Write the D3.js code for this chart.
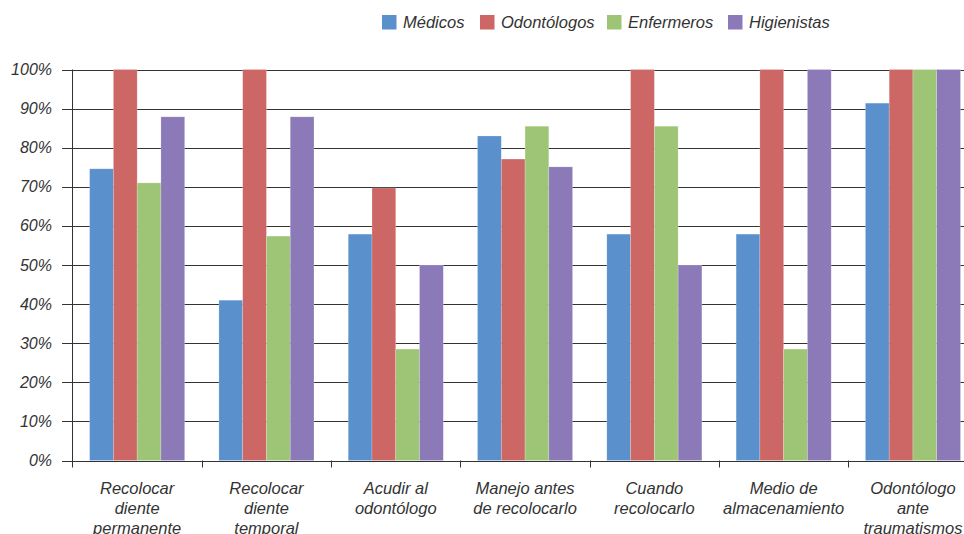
<!DOCTYPE html>
<meta charset="utf-8">
<head>
<style>
body { margin: 0; background: #fff; }
text { font-family: "Liberation Sans", Arial, sans-serif; font-style: italic; fill: #333; }
</style>
</head>
<body>
<script src="https://d3js.org/d3.v7.min.js"></script>
<script>
// categories, series and values
var categories = [
    ["Recolocar", "diente", "permanente"],
    ["Recolocar", "diente", "temporal"],
    ["Acudir al", "odontólogo"],
    ["Manejo antes", "de recolocarlo"],
    ["Cuando", "recolocarlo"],
    ["Medio de", "almacenamiento"],
    ["Odontólogo", "ante", "traumatismos"]
];
var series = ["Médicos", "Odontólogos", "Enfermeros", "Higienistas"];
var colors = ["#5a91cc", "#cd6765", "#9ec576", "#8b79b8"];
var medicos     = [74.6, 41.0, 57.9, 83.0, 57.9, 57.9, 91.4];
var odontologos = [100, 100, 69.7, 77.1, 100, 100, 100];
var enfermeros  = [71.0, 57.4, 28.5, 85.5, 85.5, 28.5, 100];
var higienistas = [87.9, 87.9, 50, 75.1, 50, 100, 100];
var yTicks = [0, 10, 20, 30, 40, 50, 60, 70, 80, 90, 100];

var values = [medicos, odontologos, enfermeros, higienistas];

var W = 964, H = 534;
var plotLeft = 72.5, bandW = 129.3, plotTop = 69.5, plotBottom = 460.5;

var svg = d3.select("body").append("svg")
    .attr("width", W).attr("height", H);

var x = d3.scaleBand()
    .domain(d3.range(categories.length))
    .range([plotLeft, plotLeft + bandW * categories.length])
    .paddingInner(0).paddingOuter(0);

var xs = d3.scaleBand()
    .domain(d3.range(series.length))
    .range([0, bandW])
    .paddingInner(0)
    .paddingOuter(0.72);

var y = d3.scaleLinear().domain([0, 100]).range([plotBottom, plotTop]);

// gridlines
svg.append("g").selectAll("line")
    .data(yTicks).enter().append("line")
    .attr("x1", 62).attr("x2", W)
    .attr("y1", function(d) { return Math.round(y(d)) + 0.5; })
    .attr("y2", function(d) { return Math.round(y(d)) + 0.5; })
    .attr("stroke", "#333").attr("stroke-width", 1);

// bars
var groups = svg.append("g").selectAll("g")
    .data(categories).enter().append("g")
    .attr("transform", function(d, i) { return "translate(" + x(i) + ",0)"; });

groups.selectAll("rect")
    .data(function(d, i) { return values.map(function(v, s) { return { s: s, v: v[i] }; }); })
    .enter().append("rect")
    .attr("x", function(d) { return xs(d.s); })
    .attr("width", xs.bandwidth())
    .attr("y", function(d) { return y(d.v); })
    .attr("height", function(d) { return y(0) - y(d.v); })
    .attr("fill", function(d) { return colors[d.s]; })
    .attr("stroke", "rgba(255,255,255,0.35)")
    .attr("stroke-width", 0.6);

// y axis
svg.append("line")
    .attr("x1", plotLeft).attr("x2", plotLeft)
    .attr("y1", plotTop).attr("y2", plotBottom + 7)
    .attr("stroke", "#333");

svg.append("g").selectAll("text")
    .data(yTicks).enter().append("text")
    .attr("x", 52)
    .attr("y", function(d) { return y(d) + 5.5; })
    .attr("text-anchor", "end")
    .style("font-size", "16px")
    .text(function(d) { return d + "%"; });

// x axis ticks
svg.append("g").selectAll("line")
    .data(d3.range(1, categories.length)).enter().append("line")
    .attr("x1", function(d) { return Math.round(x(d)) + 0.5; })
    .attr("x2", function(d) { return Math.round(x(d)) + 0.5; })
    .attr("y1", plotBottom).attr("y2", plotBottom + 7)
    .attr("stroke", "#333");

// x labels
svg.append("g").selectAll("text")
    .data(categories).enter().append("text")
    .attr("text-anchor", "middle")
    .style("font-size", "16.5px")
    .each(function(d, i) {
        var t = d3.select(this);
        d.forEach(function(line, k) {
            t.append("tspan")
                .attr("x", x(i) + bandW / 2)
                .attr("y", 494 + k * 20)
                .text(line);
        });
    });

// legend
var legendX = [382, 480, 607, 728];
var legend = svg.append("g").selectAll("g")
    .data(series).enter().append("g")
    .attr("transform", function(d, i) { return "translate(" + legendX[i] + ",15)"; });
legend.append("rect")
    .attr("width", 14.5).attr("height", 14.5)
    .attr("fill", function(d, i) { return colors[i]; });
legend.append("text")
    .attr("x", 21).attr("y", 12.5)
    .style("font-size", "16.5px")
    .text(function(d) { return d; });
</script>
</body>
